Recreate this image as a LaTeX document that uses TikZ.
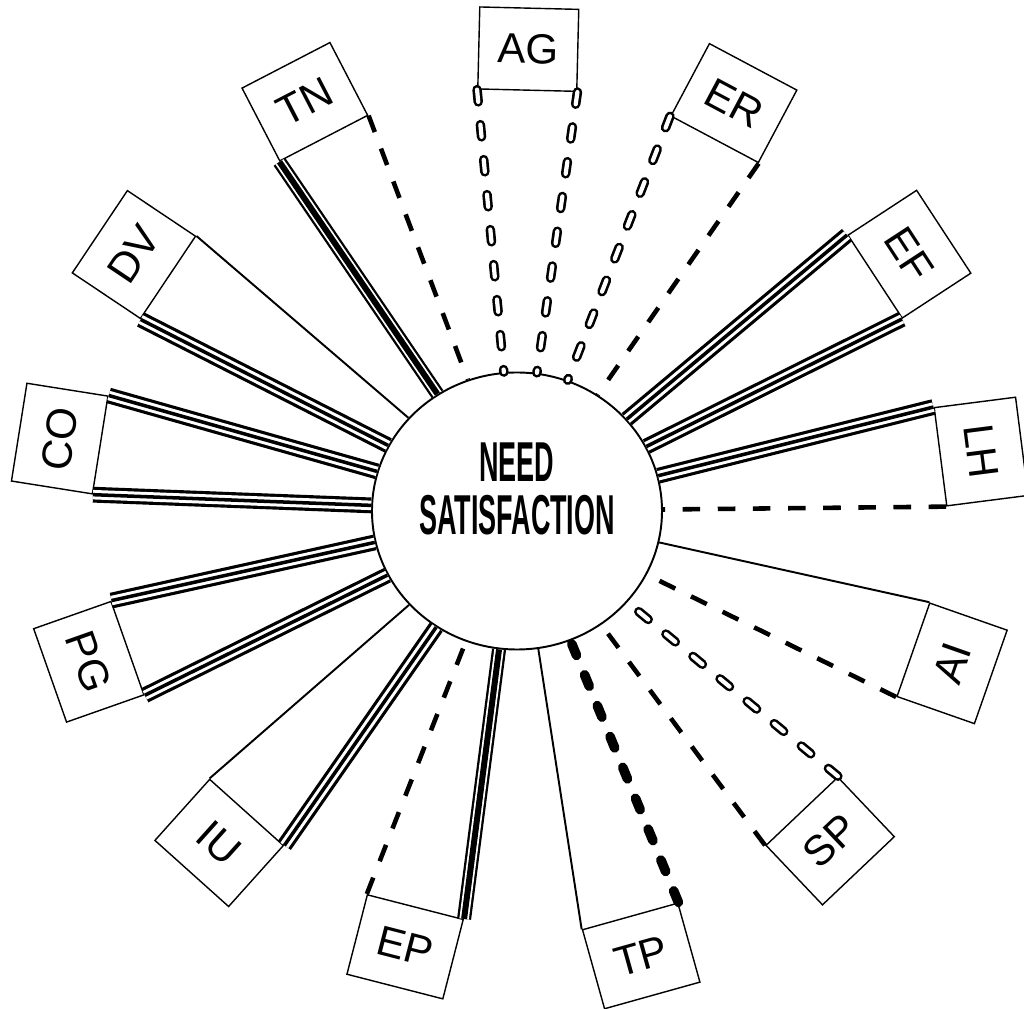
\documentclass[tikz,border=0pt]{standalone}
\usepackage{fontspec}
\setsansfont{Liberation Sans}
\usetikzlibrary{shapes.geometric}

\begin{document}
\begin{tikzpicture}[font=\sffamily,
  tag/.style={draw, line width=0.8pt, minimum width=1.98cm, minimum height=1.64cm, inner sep=0pt, font=\sffamily\fontsize{24}{28}\selectfont},
  plain/.style={line width=1.1pt},
  dashes/.style={line width=2.6pt, dash pattern=on 10pt off 10pt},
  beads/.style={line width=1.5pt, double=white, double distance=2.4pt, line cap=round, dash pattern=on 7pt off 13pt},
  blobs/.style={line width=5.5pt, line cap=round, dash pattern=on 7pt off 12pt},
  cable/.style={line width=8pt, postaction={draw, white, line width=5.4pt}, postaction={draw, black, line width=3.4pt}},
  triple/.style={line width=9pt, postaction={draw, white, line width=5.4pt}, postaction={draw, black, line width=2pt}}]
  \useasboundingbox (-10.34,-9.96) rectangle (10.14,10.22);
  % centre
  \node[ellipse, draw, line width=1.1pt, minimum width=5.8cm, minimum height=5.54cm, inner sep=0pt] (ns) at (0,0) {};
  \node[font=\sffamily\bfseries\fontsize{32}{30}\selectfont, align=center] (title) at (0,0.44) {\scalebox{0.48}[1]{NEED}\\\scalebox{0.48}[1]{SATISFACTION}};
  % boxes round the circle
  \node[tag, rotate=-1.4] (AG) at (88.6:9.24) {AG};
  \node[tag, rotate=-28] (ER) at (62:9.24) {ER};
  \node[tag, rotate=-56.8] (EF) at (33.2:9.38) {EF};
  \node[tag, rotate=-82.7] (LH) at (7.3:9.36) {LH};
  \node[tag, rotate=70.7] (AI) at (-19.3:9.22) {AI};
  \node[tag, rotate=43.5] (SP) at (-46.5:9.10) {SP};
  \node[tag, rotate=15.6] (TP) at (-74.4:9.24) {TP};
  \node[tag, rotate=-14.4] (EP) at (-104.4:9.00) {EP};
  \node[tag, rotate=-41.9] (IU) at (-131.9:8.92) {IU};
  \node[tag, rotate=-70.6] (PG) at (-160.6:9.08) {PG};
  \node[tag, rotate=81] (CO) at (171:9.26) {CO};
  \node[tag, rotate=56.2] (DV) at (146.2:9.22) {DV};
  \node[tag, rotate=27.4] (TN) at (117.4:9.22) {TN};
  % links
  \draw[beads] (AG.south west) -- (ns);
  \draw[beads] (AG.south east) -- (ns);
  \draw[beads] (ER.south west) -- (ns);
  \draw[dashes] (ER.south east) -- (ns);
  \draw[triple] (EF.south west) -- (ns);
  \draw[triple] (EF.south east) -- (ns);
  \draw[triple] (LH.south west) -- (ns);
  \draw[dashes] (LH.south east) -- (ns);
  \draw[dashes] (AI.north west) -- (ns);
  \draw[plain] (AI.north east) -- (ns);
  \draw[dashes] (SP.north west) -- (ns);
  \draw[beads] (SP.north east) -- (ns);
  \draw[plain] (TP.north west) -- (ns);
  \draw[blobs] (TP.north east) -- (ns);
  \draw[dashes] (EP.north west) -- (ns);
  \draw[cable] (EP.north east) -- (ns);
  \draw[plain] (IU.north west) -- (ns);
  \draw[triple] (IU.north east) -- (ns);
  \draw[triple] (PG.north west) -- (ns);
  \draw[triple] (PG.north east) -- (ns);
  \draw[triple] (CO.south west) -- (ns);
  \draw[triple] (CO.south east) -- (ns);
  \draw[triple] (DV.south west) -- (ns);
  \draw[plain] (DV.south east) -- (ns);
  \draw[cable] (TN.south west) -- (ns);
  \draw[dashes] (TN.south east) -- (ns);
\end{tikzpicture}
\end{document}
